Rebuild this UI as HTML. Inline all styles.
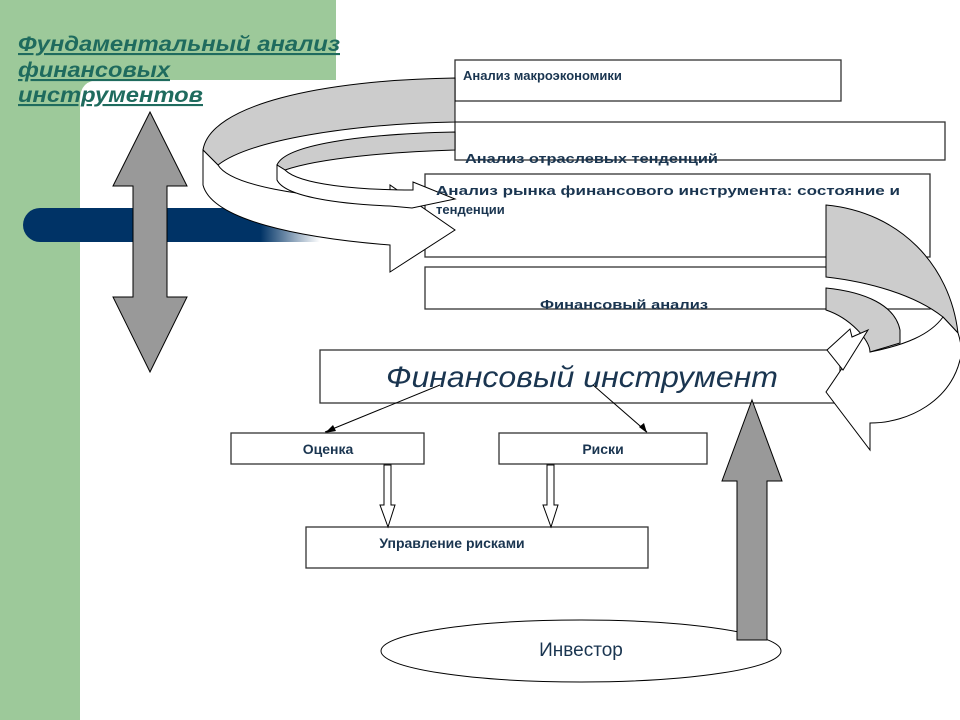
<!DOCTYPE html>
<html><head><meta charset="utf-8"><style>
html,body{margin:0;padding:0;background:#fff}
svg{display:block}
text{font-family:"Liberation Sans",Arial,sans-serif}
</style></head><body>
<svg width="960" height="720" viewBox="0 0 960 720" xmlns="http://www.w3.org/2000/svg">
<defs>
<linearGradient id="bar" x1="0" x2="1" y1="0" y2="0">
<stop offset="0" stop-color="#003366"/><stop offset="0.8" stop-color="#003366"/><stop offset="1" stop-color="#003366" stop-opacity="0"/>
</linearGradient>
</defs>
<path d="M0,0 H336 V80 H100 Q80,80 80,100 V720 H0 Z" fill="#9dc99a"/>
<path d="M40,208 H320 V242 H40 A17,17 0 0 1 40,208 Z" fill="url(#bar)"/>
<g fill="#1f6b5e" font-size="21" font-weight="bold" font-style="italic" text-decoration="underline">
<text x="18" y="51" textLength="322" lengthAdjust="spacingAndGlyphs">Фундаментальный анализ</text>
<text x="18" y="77" textLength="152" lengthAdjust="spacingAndGlyphs">финансовых</text>
<text x="18" y="102" textLength="185" lengthAdjust="spacingAndGlyphs">инструментов</text>
</g>
<polygon points="150,112 187,186 167,186 167,297 187,297 150,372 113,297 133,297 133,186 113,186" fill="#999" stroke="#000" stroke-width="1"/>
<g fill="#fff" stroke="#333" stroke-width="1.3">
<rect x="455" y="60" width="386" height="41"/>
<rect x="455" y="122" width="490" height="38"/>
<rect x="425" y="174" width="505" height="83"/>
<rect x="425" y="267" width="505" height="42"/>
</g>
<path d="M455,78 C320,80 210,105 203,150 L218,165 C250,140 350,124 455,122 Z" fill="#ccc" stroke="#000"/>
<path d="M203,150 L203,185 C212,220 300,238 390,245 L390,272 L455,230 L390,185 L390,200 C300,198 230,185 218,165 Z" fill="#fff" stroke="#000"/>
<path d="M455,132 C360,134 285,145 277,165 L285,170 C320,158 390,152 455,150 Z" fill="#ccc" stroke="#000"/>
<path d="M277,165 L277,180 C285,197 340,204 390,206 L412,208 L455,199 L413,182 L413,190 C360,190 300,185 285,170 Z" fill="#fff" stroke="#000"/>
<g fill="#1a3550" font-size="13" font-weight="bold">
<text x="463" y="80">Анализ макроэкономики</text>
<text x="465" y="163" textLength="253" lengthAdjust="spacingAndGlyphs">Анализ  отраслевых тенденций</text>
<text x="436" y="195" textLength="464" lengthAdjust="spacingAndGlyphs">Анализ рынка финансового инструмента: состояние и</text>
<text x="436" y="214">тенденции</text>
<text x="540" y="309" textLength="168" lengthAdjust="spacingAndGlyphs">Финансовый  анализ</text>
</g>
<rect x="320" y="350" width="520" height="53" fill="#fff" stroke="#333" stroke-width="1.3"/>
<text x="582" y="387" text-anchor="middle" font-size="30" font-style="italic" fill="#1a3550" textLength="392" lengthAdjust="spacingAndGlyphs">Финансовый инструмент</text>
<!-- right curved arrow -->
<path d="M826,205 C900,212 950,265 958,333 L943,317 C915,295 870,282 826,277 Z" fill="#ccc" stroke="#000"/>
<path d="M943,317 L958,333 C962,345 962,355 960,360 C950,400 910,423 870,423 L870,450 L826,392 L870,327 L870,352 C905,345 930,335 943,317 Z" fill="#fff" stroke="#000"/>
<path d="M826,288 C865,292 895,305 900,330 L900,343 L870,352 C870,340 850,318 826,310 Z" fill="#ccc" stroke="#000"/>
<path d="M827,350 L850,329 L852,337 L868,330 L843,370 Z" fill="#fff" stroke="#000"/>
<g stroke="#000" stroke-width="1">
<line x1="440" y1="385" x2="325" y2="432"/>
<line x1="593" y1="385" x2="647" y2="432"/>
</g>
<polygon points="325,433 333,425 336,431" fill="#000"/>
<polygon points="647,433 639,427 644,423" fill="#000"/>
<g fill="#fff" stroke="#333" stroke-width="1.3">
<rect x="231" y="433" width="193" height="31"/>
<rect x="499" y="433" width="208" height="31"/>
<rect x="306" y="527" width="342" height="41"/>
</g>
<g fill="#1a3550" font-size="14" font-weight="bold" text-anchor="middle">
<text x="328" y="454">Оценка</text>
<text x="603" y="454">Риски</text>
<text x="452" y="548">Управление рисками</text>
</g>
<polygon points="384,465 391,465 391,505 395,505 388,527 380,505 384,505" fill="#fff" stroke="#000"/>
<polygon points="547,465 554,465 554,505 558,505 551,527 543,505 547,505" fill="#fff" stroke="#000"/>
<ellipse cx="581" cy="651" rx="200" ry="31" fill="#fff" stroke="#000"/>
<text x="581" y="656" text-anchor="middle" font-size="19" fill="#1a3550">Инвестор</text>
<polygon points="752,400 782,481 767,481 767,640 737,640 737,481 722,481" fill="#999" stroke="#000"/>
</svg>
</body></html>
